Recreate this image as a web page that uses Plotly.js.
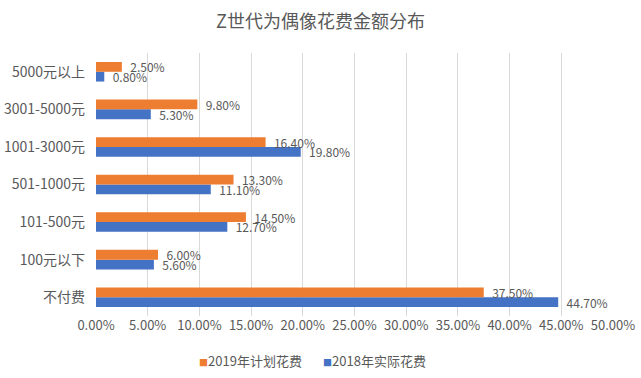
<!DOCTYPE html>
<html><head><meta charset="utf-8">
<script src="https://cdn.plot.ly/plotly-3.0.1.min.js"></script>
<style>html,body{margin:0;padding:0;background:#fff}#chart{width:641px;height:378px}</style>
</head><body><div id="chart"></div>
<script>
const categories = ['不付费','100元以下','101-500元','501-1000元','1001-3000元','3001-5000元','5000元以上'];
const plan2019 = [0.375, 0.060, 0.145, 0.133, 0.164, 0.098, 0.025];
const actual2018 = [0.447, 0.056, 0.127, 0.111, 0.198, 0.053, 0.008];
const seriesNames = ['2019年计划花费','2018年实际花费'];
const seriesColors = ['#ED7D31','#4472C4'];
const tickVals = [0,0.05,0.10,0.15,0.20,0.25,0.30,0.35,0.40,0.45,0.50];

const fam = '"Noto Sans CJK SC", "Noto Sans", sans-serif';
const grey = '#595959';
const traces = [
  {type:'bar', orientation:'h', y:categories, x:actual2018, name:seriesNames[1],
   marker:{color:seriesColors[1]}, texttemplate:'\u00a0\u00a0%{x:.2%}', textposition:'outside', constraintext:'none',
   textfont:{color:grey, size:12, family:fam}, cliponaxis:false, hoverinfo:'none', showlegend:false},
  {type:'bar', orientation:'h', y:categories, x:plan2019, name:seriesNames[0],
   marker:{color:seriesColors[0]}, texttemplate:'\u00a0\u00a0%{x:.2%}', textposition:'outside', constraintext:'none',
   textfont:{color:grey, size:12, family:fam}, cliponaxis:false, hoverinfo:'none', showlegend:false}
];
const legendAnn = seriesNames.map((n,i)=>({
  xref:'paper', yref:'paper', x: i===0 ? 0.195 : 0.435, y:-0.17, xanchor:'left', yanchor:'middle',
  text:'<span style="color:'+seriesColors[i]+';font-size:9px">■</span>'+n, showarrow:false,
  font:{size:13, color:grey, family:fam}
}));
const layout = {
  width:641, height:378, margin:{l:96, r:28, t:53, b:62, autoexpand:false},
  paper_bgcolor:'#fff', plot_bgcolor:'#fff', font:{family:fam, color:grey, size:13},
  title:{text:'Z世代为偶像花费金额分布', x:0.5, xanchor:'center', y:0.942, yanchor:'middle',
         font:{size:18, color:grey, family:fam}},
  barmode:'group', bargap:0.48, bargroupgap:0,
  xaxis:{range:[0,0.5], tickvals:tickVals, tickformat:'.2%', showgrid:true, gridcolor:'#d9d9d9',
         zeroline:false, showline:false, ticks:'', tickfont:{size:13, color:grey}, automargin:false},
  yaxis:{showgrid:false, zeroline:false, showline:false, ticks:'', ticklabelstandoff:10,
         tickfont:{size:14, color:grey}, automargin:false},
  showlegend:false,
  annotations:legendAnn
};
Plotly.newPlot('chart', traces, layout, {staticPlot:true, displayModeBar:false});
</script></body></html>
